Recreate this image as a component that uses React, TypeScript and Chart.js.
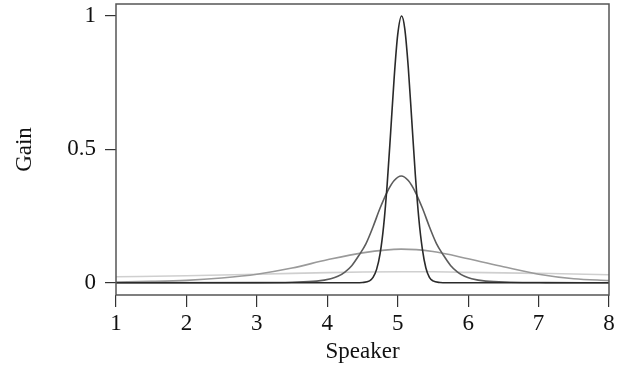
import React, { useEffect, useRef } from "react";
import { Chart, registerables } from "chart.js";

Chart.register(...registerables);

// x positions (speaker index) and gain values
const narrowX = [1, 4.4, 4.5, 4.6, 4.65, 4.7, 4.75, 4.8, 4.85, 4.9, 4.95, 5.0, 5.055, 5.1, 5.15, 5.2, 5.25, 5.3, 5.35, 5.4, 5.45, 5.5, 5.6, 5.7, 8];
const narrowY = [0, 0, 0.001, 0.007, 0.02, 0.05, 0.109, 0.213, 0.368, 0.565, 0.77, 0.93, 1, 0.953, 0.807, 0.607, 0.405, 0.24, 0.126, 0.055, 0.02, 0.007, 0.001, 0, 0];

const mediumX = [1, 3.0, 3.5, 3.85, 4.05, 4.15, 4.25, 4.35, 4.45, 4.55, 4.65, 4.75, 4.85, 4.95, 5.05, 5.15, 5.25, 5.35, 5.45, 5.55, 5.65, 5.75, 5.85, 5.95, 6.05, 6.25, 6.6, 7.1, 8];
const mediumY = [0, 0.0005, 0.002, 0.006, 0.015, 0.024, 0.04, 0.065, 0.103, 0.147, 0.21, 0.28, 0.34, 0.383, 0.4, 0.383, 0.34, 0.28, 0.21, 0.147, 0.103, 0.065, 0.04, 0.024, 0.015, 0.006, 0.002, 0.0005, 0];

const wideX = [1, 1.5, 2, 2.5, 3, 3.5, 4, 4.5, 5.05, 5.5, 6, 6.5, 7, 7.5, 8];
const wideY = [0.003, 0.005, 0.009, 0.018, 0.032, 0.055, 0.086, 0.112, 0.126, 0.117, 0.09, 0.06, 0.032, 0.015, 0.008];

const flatX = [1, 2, 3, 3.5, 4, 4.5, 5.05, 5.5, 6, 6.5, 7, 7.5, 8];
const flatY = [0.0225, 0.026, 0.032, 0.035, 0.038, 0.04, 0.041, 0.041, 0.039, 0.037, 0.035, 0.033, 0.03];

const xTicks = [1, 2, 3, 4, 5, 6, 7, 8];
const yTicks = [0, 0.5, 1];

const FONT = "'Liberation Serif', 'Times New Roman', serif";

const toPoints = (xs: number[], ys: number[]) => xs.map((x, i) => ({ x, y: ys[i] }));

const boxPlugin = {
  id: "box",
  afterDatasetsDraw(chart: any) {
    const { ctx, chartArea } = chart;
    ctx.save();
    ctx.strokeStyle = "#555";
    ctx.lineWidth = 1.5;
    ctx.strokeRect(chartArea.left, chartArea.top, chartArea.right - chartArea.left, chartArea.bottom - chartArea.top);
    ctx.restore();
  },
};

export default function App() {
  const ref = useRef<HTMLCanvasElement | null>(null);
  useEffect(() => {
    document.body.style.margin = "0";
    document.body.style.overflow = "hidden";
    const canvas = ref.current!;
    const mk = (label: string, xs: number[], ys: number[], color: string) => ({
      label,
      data: toPoints(xs, ys),
      borderColor: color,
      borderWidth: 1.6,
      pointRadius: 0,
      cubicInterpolationMode: "monotone" as const,
      fill: false,
    });
    const chart = new Chart(canvas, {
      type: "line",
      data: {
        datasets: [
          mk("narrow", narrowX, narrowY, "#2a2a2a"),
          mk("medium", mediumX, mediumY, "#5c5c5c"),
          mk("wide", wideX, wideY, "#9a9a9a"),
          mk("flat", flatX, flatY, "#cfcfcf"),
        ],
      },
      options: {
        animation: false,
        responsive: false,
        layout: { padding: { top: 4, right: 18, left: 0, bottom: 0 } },
        plugins: { legend: { display: false }, tooltip: { enabled: false } },
        scales: {
          x: {
            type: "linear",
            min: 1,
            max: 8,
            afterBuildTicks: (s: any) => {
              s.ticks = xTicks.map((v) => ({ value: v }));
            },
            afterFit: (s: any) => {
              s.height = 71;
              s.paddingLeft = 0;
              s.paddingRight = 0;
            },
            ticks: {
              color: "#111",
              font: { family: FONT, size: 23 },
              padding: 3,
              maxRotation: 0,
              callback: (v: any) => String(v),
            },
            grid: { display: true, drawOnChartArea: false, drawTicks: true, tickLength: 12, color: "#333", lineWidth: 1.2 },
            border: { display: false },
            title: { display: true, text: "Speaker", color: "#111", font: { family: FONT, size: 23 }, padding: { top: 0, bottom: 0 } },
          },
          y: {
            type: "linear",
            min: -0.046,
            max: 1.045,
            afterBuildTicks: (s: any) => {
              s.ticks = yTicks.map((v) => ({ value: v }));
            },
            afterFit: (s: any) => {
              s.width = 116;
              s.paddingTop = 0;
              s.paddingBottom = 0;
            },
            ticks: {
              color: "#111",
              font: { family: FONT, size: 23 },
              padding: 9,
              callback: (v: any) => String(v),
            },
            grid: { display: true, drawOnChartArea: false, drawTicks: true, tickLength: 11, color: "#333", lineWidth: 1.2 },
            border: { display: false },
            title: { display: true, text: "Gain", color: "#111", font: { family: FONT, size: 23 }, padding: { top: 11, bottom: 0 } },
          },
        },
      },
      plugins: [boxPlugin],
    });
    return () => chart.destroy();
  }, []);
  return <canvas ref={ref} width={627} height={366} style={{ display: "block", width: 627, height: 366 }} />;
}
